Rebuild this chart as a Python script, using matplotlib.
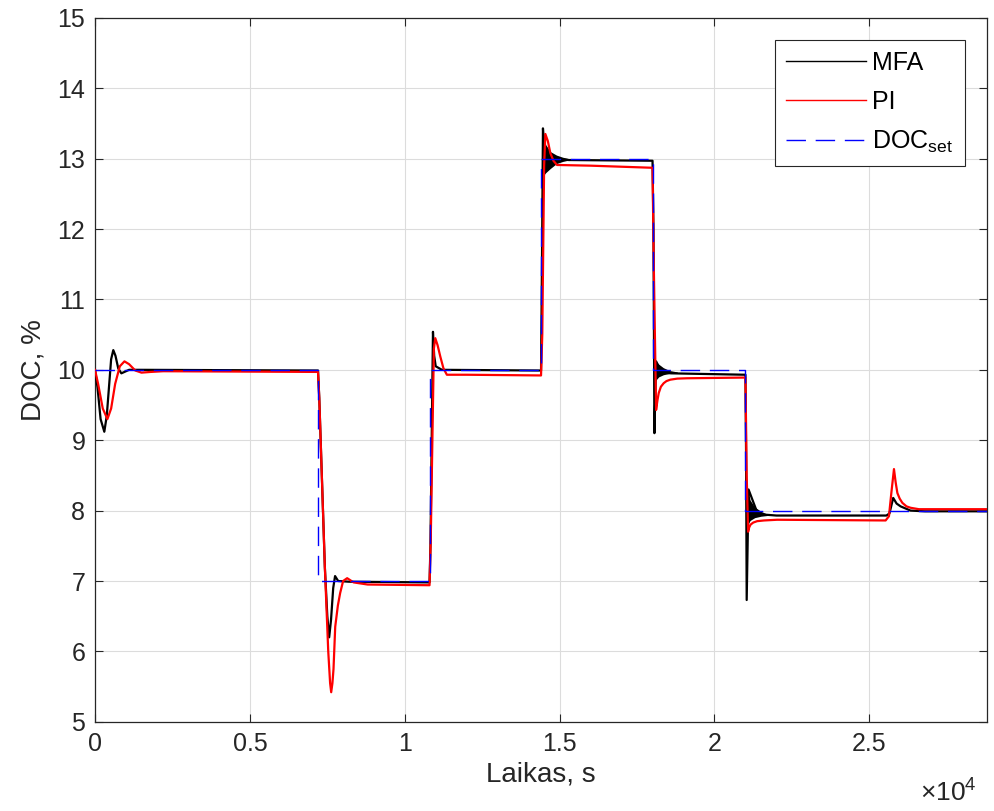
"""
DOC set-point tracking: MFA vs PI controller response
"""

import matplotlib.pyplot as plt

plt.rcParams['font.family'] = ['Liberation Sans', 'DejaVu Sans']
plt.rcParams['mathtext.fontset'] = 'custom'
plt.rcParams['mathtext.rm'] = 'Liberation Sans'
plt.rcParams['mathtext.it'] = 'Liberation Sans'

# set-point steps
set_t = [0, 7200, 7200, 10800, 10800, 14400, 14400, 18000, 18000, 21000, 21000, 28800]
set_v = [10, 10, 7, 7, 10, 10, 13, 13, 10, 10, 8, 8]

# MFA response
mfa_t = [0, 80, 180, 300, 380, 450, 520, 590, 660, 750, 850, 950, 1100, 1400, 7200,
         7240, 7420, 7500, 7560, 7620, 7690, 7750, 7850, 8200, 10800,
         10830, 10911, 10950, 11000, 11200, 14400,
         14430, 14462, 14520, 14700, 15300, 18000,
         18030, 18061, 18116, 18300, 18600, 21000,
         21020, 21040, 21100, 21400, 22000, 25550,
         25650, 25770, 25880, 26010, 26330, 26800, 28800]
mfa_v = [10, 9.75, 9.3, 9.12, 9.35, 9.75, 10.15, 10.28, 10.2, 10.02, 9.95, 9.97, 10.0, 10.0, 9.99,
         9.6, 7.2, 6.5, 6.2, 6.45, 6.9, 7.07, 7.0, 6.99, 6.98,
         7.5, 10.54, 10.2, 10.05, 10.0, 9.99,
         11.5, 13.43, 13.05, 13.0, 12.98, 12.97,
         12.0, 9.10, 10.12, 9.96, 9.95, 9.93,
         8.8, 6.73, 8.3, 7.95, 7.93, 7.93,
         7.96, 8.18, 8.1, 8.06, 8.0, 7.99, 7.99]

# MFA high-frequency oscillation envelopes after steps
osc1_t = [14460, 14550, 14700, 14900, 15100, 15300]
osc1_hi = [13.43, 13.2, 13.1, 13.05, 13.02, 13.0]
osc1_lo = [12.75, 12.8, 12.86, 12.93, 12.96, 12.98]

osc2_t = [18100, 18200, 18350, 18550, 18800]
osc2_hi = [10.12, 10.08, 10.03, 9.99, 9.97]
osc2_lo = [9.85, 9.9, 9.93, 9.95, 9.96]

osc3_t = [21080, 21150, 21300, 21500, 21700]
osc3_hi = [8.3, 8.15, 8.05, 7.99, 7.95]
osc3_lo = [7.8, 7.86, 7.9, 7.92, 7.93]

# PI response
pi_t = [0, 100, 250, 400, 520, 650, 800, 950, 1100, 1300, 1500, 1800, 2200, 7200,
        7240, 7420, 7530, 7590, 7625, 7665, 7700, 7755, 7840, 7915, 8010, 8140, 8350, 8800, 10800,
        10840, 10940, 10985, 11060, 11147, 11250, 11360, 12000, 14400,
        14440, 14500, 14540, 14620, 14700, 14800, 14915, 16000, 18000,
        18040, 18115, 18160, 18200, 18270, 18360, 18450, 18575, 18800, 19115, 21000,
        21040, 21086, 21120, 21163, 21250, 21378, 21600, 22024, 25525,
        25633, 25710, 25795, 25850, 25905, 25980, 26066, 26200, 26333, 26600, 28800]
pi_v = [10, 9.8, 9.45, 9.3, 9.45, 9.8, 10.05, 10.12, 10.08, 9.99, 9.96, 9.97, 9.98, 9.97,
        9.6, 7.2, 6.0, 5.55, 5.42, 5.55, 5.75, 6.35, 6.65, 6.83, 7.0, 7.04, 6.98, 6.95, 6.94,
        7.6, 10.3, 10.45, 10.35, 10.19, 10.02, 9.93, 9.93, 9.92,
        10.5, 12.9, 13.35, 13.25, 13.08, 12.97, 12.91, 12.9, 12.87,
        11.5, 9.43, 9.57, 9.67, 9.76, 9.81, 9.84, 9.86, 9.875, 9.88, 9.89,
        8.5, 7.7, 7.76, 7.8, 7.83, 7.85, 7.86, 7.87, 7.86,
        7.92, 8.25, 8.59, 8.4, 8.25, 8.17, 8.11, 8.06, 8.04, 8.02, 8.02]

fig = plt.figure(figsize=(9.95, 8.11), dpi=100)
ax = fig.add_axes([0.0955, 0.110, 0.8965, 0.868])

ax.plot(mfa_t, mfa_v, color='black', lw=1.6, label='MFA', zorder=3)
for t, hi, lo in [(osc1_t, osc1_hi, osc1_lo),
                  (osc2_t, osc2_hi, osc2_lo),
                  (osc3_t, osc3_hi, osc3_lo)]:
    ax.fill_between(t, lo, hi, color='black', lw=0, zorder=3)
ax.plot(pi_t, pi_v, color='#ff0000', lw=1.6, label='PI', zorder=4)
ax.plot(set_t, set_v, color='#0000ff', lw=1.0, dashes=(14, 7),
        label=r'DOC$_{\rm set}$', zorder=5)

ax.set_xlim(0, 28800)
ax.set_ylim(5, 15)
ax.set_xticks([0, 5000, 10000, 15000, 20000, 25000])
ax.set_xticklabels(['0', '0.5', '1', '1.5', '2', '2.5'])
ax.set_yticks(range(5, 16))
ax.tick_params(direction='in', length=6, width=0.8, labelsize=18,
               colors='#262626', top=True, right=True, pad=7)
ax.grid(True, color='#dcdcdc', lw=0.8)
for s in ax.spines.values():
    s.set_color('#262626')
    s.set_linewidth(0.9)

ax.set_xlabel('Laikas, s', fontsize=20, color='#262626', labelpad=4)
ax.set_ylabel('DOC, %', fontsize=20, color='#262626', labelpad=8)
fig.text(0.925, 0.012, r'$\times10^{4}$', fontsize=19, color='#262626')

leg = ax.legend(loc='upper right', bbox_to_anchor=(0.975, 0.969),
                borderaxespad=0, fontsize=18, handlelength=3.2,
                fancybox=False, edgecolor='#262626', framealpha=1,
                borderpad=0.45, labelspacing=0.6, handletextpad=0.25)
leg.get_frame().set_linewidth(0.8)
for ln in leg.get_lines():
    ln.set_linewidth(1.0)

plt.savefig('out.png', dpi=100)
